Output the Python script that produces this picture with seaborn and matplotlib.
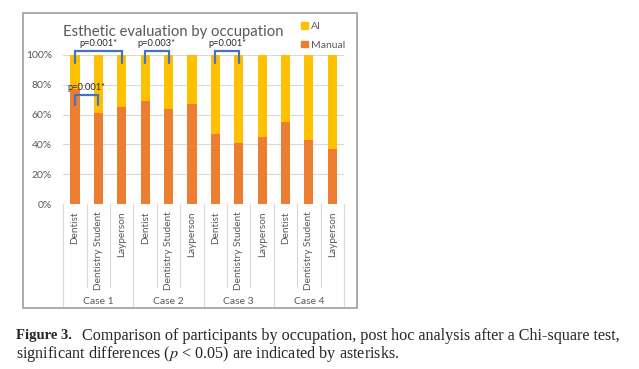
import numpy as np
import pandas as pd
import matplotlib
matplotlib.use("Agg")
import matplotlib.pyplot as plt
import seaborn as sns
from matplotlib.patches import Patch, Rectangle

cases = ["Case 1", "Case 2", "Case 3", "Case 4"]
occupations = ["Dentist", "Dentistry Student", "Layperson"]
manual = [77, 61, 65, 69, 64, 67, 47, 41, 45, 55, 43, 37]
ai = [23, 39, 35, 31, 36, 33, 53, 59, 55, 45, 57, 63]
# significance brackets: (first bar, second bar, p label)
brackets = [(0, 2, "p=0.001*"), (3, 4, "p=0.003*"), (6, 7, "p=0.001*"), (0, 1, "p=0.001*")]

c_ai = "#FFC000"
c_man = "#ED7D31"
c_blue = "#4472C4"

rows = []
for i, case in enumerate(cases):
    for j, occ in enumerate(occupations):
        k = i * 3 + j
        rows.append({"key": f"{case}|{occ}", "case": case, "occ": occ,
                     "Manual": manual[k], "AI": ai[k], "total": manual[k] + ai[k]})
df = pd.DataFrame(rows)
order = list(df["key"])

sns.set_style("white")
plt.rcParams["font.family"] = ["Lato", "DejaVu Sans"]
plt.rcParams["mathtext.fontset"] = "stix"

fig = plt.figure(figsize=(6.39, 3.69), dpi=100)
ax = fig.add_axes([63.3 / 639, 165 / 369, (344 - 63.3) / 639, 149 / 369])

sns.barplot(data=df, x="key", y="total", order=order, color=c_ai, width=0.39,
            saturation=1, ax=ax, errorbar=None, linewidth=0)
sns.barplot(data=df, x="key", y="Manual", order=order, color=c_man, width=0.39,
            saturation=1, ax=ax, errorbar=None, linewidth=0)

ax.set_ylim(0, 100)
ax.set_xlim(-0.5, len(order) - 0.5)
ax.set_yticks(range(0, 101, 20))
ax.set_yticklabels([f"{v}%" for v in range(0, 101, 20)], color="#595959", fontsize=7.5)
ax.yaxis.grid(True, color="#d9d9d9", lw=0.8)
ax.set_axisbelow(True)
for s in ax.spines.values():
    s.set_visible(False)
ax.tick_params(axis="y", length=0, pad=8)
ax.set_xticks([])
ax.set_xlabel("")
ax.set_ylabel("")
ax.axhline(0, color="#d9d9d9", lw=0.8)

# two-level category axis
trans = ax.get_xaxis_transform()
for k, row in df.iterrows():
    ax.text(k, -0.05, row["occ"], rotation=90, ha="center", va="top",
            fontsize=7.2, color="#595959", transform=trans)
for b in range(len(order) + 1):
    bottom = -0.69 if b % 3 == 0 else -0.56
    ax.plot([b - 0.5, b - 0.5], [0, bottom], color="#d9d9d9", lw=0.8,
            transform=trans, clip_on=False)
for i, case in enumerate(cases):
    ax.text(i * 3 + 1, -0.652, case, ha="center", va="center",
            fontsize=7.5, color="#595959", transform=trans)

# significance brackets
for a, b, lab in brackets:
    if b - a == 1 and a == 0:
        top, leg, ty = 73.2, 66.4, 78.4
    else:
        top, leg, ty = 102.9, 94.8, 107.4
    ax.plot([a, a, b, b], [leg, top, top, leg], color=c_blue, lw=1.6,
            clip_on=False, solid_joinstyle="miter")
    ax.text((a + b) / 2, ty, lab, ha="center", va="center", fontsize=6.7,
            color="#262626", clip_on=False)

fig.text(63 / 639, 1 - 32 / 369, "Esthetic evaluation by occupation",
         fontsize=10.7, color="#595959", ha="left", va="center")

handles = [Patch(color=c_ai, label="AI"), Patch(color=c_man, label="Manual")]
fig.legend(handles=handles, loc="upper left", bbox_to_anchor=(292 / 639, 1 - 13 / 369),
           frameon=False, fontsize=7.5, handlelength=0.6, handleheight=0.6,
           handletextpad=0.3, labelspacing=0.9, labelcolor="#595959")

fig.patches.append(Rectangle((22.7 / 639, 1 - 307.7 / 369), (357 - 22.7) / 639,
                             (307.7 - 13.3) / 369, transform=fig.transFigure,
                             fill=False, edgecolor="#a6a6a6", lw=1.3))

# caption
cap = ["Liberation Serif", "DejaVu Serif"]
fig.text(16 / 639, 1 - 336 / 369, "Figure 3.", fontweight="bold", fontsize=10.5,
         family=cap, va="center", ha="left")
fig.text(82 / 639, 1 - 336 / 369,
         "Comparison of participants by occupation, post hoc analysis after a Chi-square test,",
         fontsize=11.6, family=cap, va="center", ha="left")
fig.text(16 / 639, 1 - 354 / 369,
         r"significant differences ($p$ < 0.05) are indicated by asterisks.",
         fontsize=11.6, family=cap, va="center", ha="left")

fig.savefig("out.png", dpi=100)
